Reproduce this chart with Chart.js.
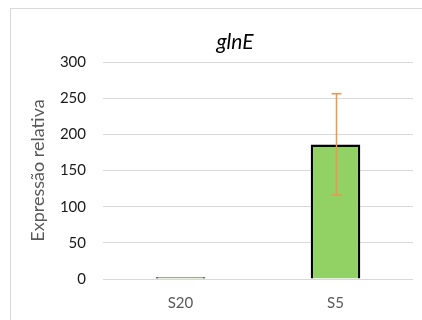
<!DOCTYPE html>
<html>
<head>
<meta charset="utf-8">
<script src="https://cdn.jsdelivr.net/npm/chart.js@4/dist/chart.umd.min.js"></script>
<style>
html,body{margin:0;padding:0;background:#fff;}
#wrap{position:relative;width:422px;height:320px;}
</style>
</head>
<body>
<div id="wrap"><canvas id="c" width="422" height="320"></canvas></div>
<script>
const categories = ["S20", "S5"];
const values = [2.5, 186];
const errors = [0.5, 70];
const yTicks = [0, 50, 100, 150, 200, 250, 300];
const chartTitle = "glnE";
const yTitle = "Expressão relativa";

const FONT = "Lato, 'Liberation Sans', sans-serif";

const frame = {
  id: 'frame',
  beforeDraw(chart) {
    const ctx = chart.ctx;
    ctx.save();
    ctx.fillStyle = '#fff';
    ctx.fillRect(0, 0, chart.width, chart.height);
    ctx.strokeStyle = '#d9d9d9';
    ctx.lineWidth = 1;
    ctx.strokeRect(10.5, 8.5, 440, 340);
    ctx.restore();
  },
  afterDraw(chart) {
    const ctx = chart.ctx;
    ctx.save();
    ctx.fillStyle = '#000';
    ctx.font = "italic 21px " + FONT;
    ctx.textAlign = 'center';
    ctx.textBaseline = 'middle';
    ctx.fillText(chartTitle, 235, 42);
    ctx.restore();
  }
};

const errorBars = {
  id: 'errorBars',
  afterDatasetsDraw(chart) {
    const ctx = chart.ctx;
    const meta = chart.getDatasetMeta(0);
    const y = chart.scales.y;
    ctx.save();
    ctx.strokeStyle = '#F09553';
    ctx.lineWidth = 1.5;
    meta.data.forEach((bar, i) => {
      const e = errors[i];
      if (!e || e < 2) return;
      const x = Math.round(bar.x) + 0.5;
      const yt = y.getPixelForValue(values[i] + e);
      const yb = y.getPixelForValue(values[i] - e);
      ctx.beginPath();
      ctx.moveTo(x, yt); ctx.lineTo(x, yb);
      ctx.moveTo(x - 5, yt); ctx.lineTo(x + 5, yt);
      ctx.moveTo(x - 5, yb); ctx.lineTo(x + 5, yb);
      ctx.stroke();
    });
    ctx.restore();
  }
};

new Chart(document.getElementById('c'), {
  type: 'bar',
  data: {
    labels: categories,
    datasets: [{
      data: values,
      backgroundColor: '#92D264',
      borderColor: '#000',
      borderWidth: 2.5,
      categoryPercentage: 1,
      barPercentage: 0.32
    }]
  },
  options: {
    responsive: false,
    animation: false,
    layout: { padding: { left: 0, right: 9, top: 62, bottom: 0 } },
    plugins: {
      legend: { display: false },
      tooltip: { enabled: false },
      title: { display: false }
    },
    scales: {
      x: {
        grid: { display: false, drawTicks: false },
        border: { display: false },
        ticks: { color: '#595959', font: { family: FONT, size: 15 }, padding: 15 },
        afterFit(s) { s.height = 41; }
      },
      y: {
        min: 0, max: 300,
        afterBuildTicks(s) { s.ticks = yTicks.map(v => ({ value: v })); },
        grid: { color: '#d9d9d9', lineWidth: 1, drawTicks: false },
        border: { display: false },
        ticks: { color: '#1a1a1a', font: { family: FONT, size: 15 }, padding: 17 },
        title: {
          display: true,
          text: yTitle,
          color: '#595959',
          font: { family: FONT, size: 18 },
          padding: { top: 27, bottom: 0 }
        },
        afterFit(s) { s.width = 103; }
      }
    }
  },
  plugins: [frame, errorBars]
});
</script>
</body>
</html>
